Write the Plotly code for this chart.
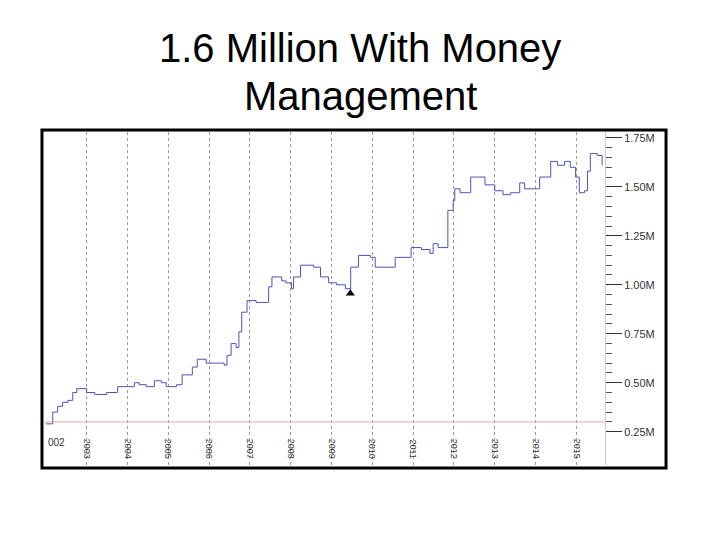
import plotly.graph_objects as go

years = [2002.00, 2002.17, 2002.29, 2002.41, 2002.54, 2002.66, 2002.76, 2002.88, 2003.00, 2003.20,
         2003.49, 2003.73, 2003.76, 2004.00, 2004.17, 2004.29, 2004.46, 2004.66, 2004.83, 2004.95,
         2005.20, 2005.34, 2005.59, 2005.71, 2005.93, 2006.37, 2006.44, 2006.54, 2006.66, 2006.73,
         2006.80, 2006.93, 2007.15, 2007.41, 2007.46, 2007.54, 2007.78, 2007.88, 2008.02, 2008.07,
         2008.24, 2008.37, 2008.56, 2008.73, 2008.93, 2009.12, 2009.34, 2009.46, 2009.47, 2009.66,
         2009.95, 2010.07, 2010.51, 2010.56, 2010.93, 2010.95, 2011.20, 2011.41, 2011.49, 2011.61,
         2011.78, 2011.85, 2011.98, 2012.02, 2012.15, 2012.39, 2012.41, 2012.63, 2012.76, 2013.00,
         2013.20, 2013.39, 2013.56, 2013.61, 2013.73, 2014.05, 2014.10, 2014.24, 2014.37, 2014.54,
         2014.71, 2014.85, 2014.98, 2015.07, 2015.20, 2015.27, 2015.34, 2015.51, 2015.63]
equity = [0.29, 0.35, 0.38, 0.40, 0.41, 0.45, 0.47, 0.47, 0.45, 0.44,
          0.45, 0.45, 0.48, 0.48, 0.50, 0.49, 0.48, 0.51, 0.50, 0.48,
          0.49, 0.54, 0.58, 0.62, 0.60, 0.59, 0.64, 0.70, 0.68, 0.76,
          0.86, 0.92, 0.91, 0.91, 0.99, 1.04, 1.02, 1.01, 0.98, 1.04,
          1.10, 1.10, 1.09, 1.04, 1.01, 1.00, 0.98, 0.96, 1.09, 1.15,
          1.14, 1.09, 1.09, 1.14, 1.14, 1.19, 1.18, 1.16, 1.21, 1.19,
          1.19, 1.38, 1.43, 1.49, 1.47, 1.47, 1.55, 1.55, 1.51, 1.48,
          1.46, 1.47, 1.47, 1.52, 1.49, 1.49, 1.55, 1.55, 1.63, 1.61,
          1.63, 1.60, 1.55, 1.47, 1.48, 1.58, 1.67, 1.66, 1.61]
start_level = 0.30
marker_year, marker_val = 2009.46, 0.955
year_ticks = list(range(2003, 2016))
y_ticks = [0.25, 0.50, 0.75, 1.00, 1.25, 1.50, 1.75]
y_labels = ["0.25M", "0.50M", "0.75M", "1.00M", "1.25M", "1.50M", "1.75M"]

fig = go.Figure()
fig.add_trace(go.Scatter(x=years, y=equity, mode="lines", line=dict(color="#4a55b0", width=1, shape="hv")))
fig.add_trace(go.Scatter(x=[marker_year], y=[marker_val], mode="markers",
                         marker=dict(symbol="triangle-up", size=8, color="black")))
fig.add_hline(y=start_level, line=dict(color="#f0a0a0", width=1))

fig.update_layout(
    width=720, height=540, showlegend=False,
    paper_bgcolor="white", plot_bgcolor="white",
    margin=dict(l=37, r=123, t=124, b=83),
    font=dict(family="Liberation Sans, Arial", color="black"),
    xaxis=dict(range=[2001.98, 2015.7], tickvals=year_ticks, ticktext=[str(t) for t in year_ticks],
               tickangle=90, tickfont=dict(size=9, color="#333"), showgrid=True,
               gridcolor="#999", griddash="dot", gridwidth=1, zeroline=False, automargin=False,
               ticks="", ticklabelposition="inside", showline=False),
    yaxis=dict(range=[0.08, 1.78], side="right", tickvals=y_ticks, ticktext=y_labels, automargin=False,
               ticks="outside", ticklen=16, tickcolor="#333", tickfont=dict(size=11, color="#333"),
               showgrid=False, zeroline=False, showline=True, linecolor="#ccc",
               minor=dict(dtick=0.05, ticks="outside", ticklen=6, tickcolor="#555")),
)
fig.add_annotation(xref="paper", yref="paper", x=0.5625, y=1.252, text="1.6 Million With Money",
                   showarrow=False, xanchor="center", yanchor="middle", font=dict(size=40))
fig.add_annotation(xref="paper", yref="paper", x=0.5625, y=1.108, text="Management",
                   showarrow=False, xanchor="center", yanchor="middle", font=dict(size=40))
fig.add_shape(type="rect", xref="paper", yref="paper", x0=-0.0054, x1=1.109, y0=-0.009, y1=1.006,
              line=dict(color="black", width=3))
fig.add_annotation(xref="paper", yref="paper", x=0.002, y=0.045, text="002", showarrow=False,
                   xanchor="left", font=dict(size=10, color="#333"))
fig.write_html("out.html")
